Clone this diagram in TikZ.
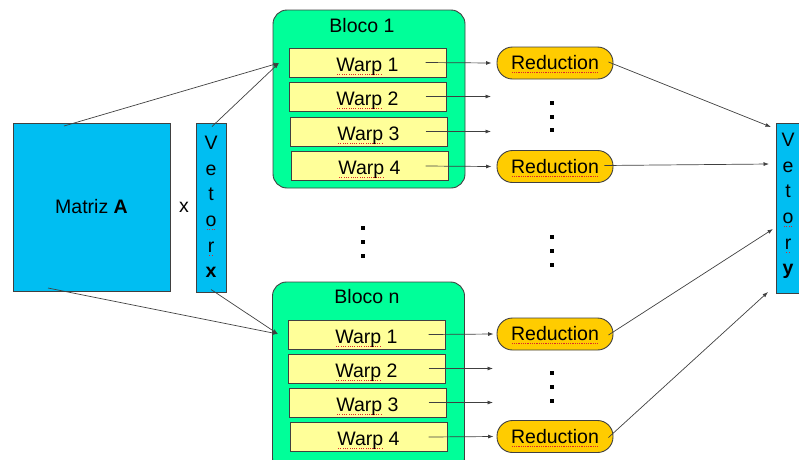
\documentclass[tikz,border=0pt]{standalone}
\usepackage{fontspec}
\setmainfont{Liberation Sans}
\usetikzlibrary{arrows.meta}

\definecolor{matcyan}{RGB}{0,190,242}
\definecolor{blockgreen}{RGB}{0,255,153}
\definecolor{warpyellow}{RGB}{255,255,153}
\definecolor{redfill}{RGB}{255,204,0}
\definecolor{edgegray}{RGB}{64,64,64}
\definecolor{spellred}{RGB}{220,40,40}

% red dotted underline under a word
\newcommand\spellmark[1]{\setbox0=\hbox{#1}\rlap{\textcolor{spellred}{\raisebox{-3.6pt}{\hbox to \wd0{\xleaders\hbox to 2.2pt{\hss\rule{1.1pt}{1.1pt}\hss}\hfill}}}}\box0\relax}

\tikzset{
  txt/.style={font=\fontsize{19.5}{23}\selectfont},
  vecbox/.style={draw=edgegray, line width=0.9pt, fill=matcyan, inner sep=0pt},
  blockbox/.style={draw=edgegray, line width=0.9pt, fill=blockgreen, rounded corners=14pt,
    minimum width=192pt, inner sep=0pt},
  warpbox/.style={txt, draw=edgegray, line width=0.9pt, fill=warpyellow, inner sep=0pt,
    minimum width=157pt, minimum height=29pt, text height=17pt, text depth=0pt},
  redbox/.style={txt, draw=edgegray, line width=0.9pt, fill=redfill, inner sep=0pt,
    rounded corners=15.5pt, minimum width=116pt, minimum height=32pt, text height=13pt, text depth=0pt},
  conn/.style={draw=edgegray, line width=0.7pt, -{Latex[length=5.5pt,width=4pt]}},
  dotmark/.style={fill=black, inner sep=0pt, minimum size=3.2pt, rectangle},
  vletters/.style={font=\fontsize{19.5}{25.6}\selectfont, align=center, inner sep=0pt},
}

\begin{document}
\begin{tikzpicture}[x=1pt, y=-1pt]
\useasboundingbox (0,0) rectangle (799,459);
\clip (0,0) rectangle (799,459);

% matrix A and input vector x
\node[vecbox, minimum width=157pt, minimum height=168pt, txt] (matA) at (91.5,207) {Matriz \textbf{A}};
\node[txt] (times) at (184,207.5) {x};
\node[vecbox, minimum width=30pt, minimum height=169pt] (vecx) at (211,207.5) {};
\node[vletters] (vecxt) at (211,207) {V\\e\\t\\\spellmark{o}\\\spellmark{r}\\\textbf{x}};

% output vector y
\node[vecbox, minimum width=30pt, minimum height=170pt] (vecy) at (791,208) {};
\node[vletters] (vecyt) at (788,206) {V\\e\\t\\\spellmark{o}\\\spellmark{r}\\\textbf{y}};

% block 1
\node[blockbox, minimum height=178pt] (b1) at (369,99) {};
\node[txt, anchor=base] (b1t) at (362,32) {Bloco 1};
\node[warpbox] (w11) at (367.5,62.5) {\spellmark{Warp} 1};
\node[warpbox] (w12) at (367.5,96.5) {\spellmark{Warp} 2};
\node[warpbox] (w13) at (368.5,131.5) {\spellmark{Warp} 3};
\node[warpbox] (w14) at (369.5,166) {\spellmark{Warp} 4};

% block n
\node[blockbox, minimum height=190pt] (bn) at (368.5,377) {};
\node[txt, anchor=base] (bnt) at (367,303) {Bloco n};
\node[warpbox] (wn1) at (366.5,334.5) {\spellmark{Warp} 1};
\node[warpbox] (wn2) at (366.5,368.5) {\spellmark{Warp} 2};
\node[warpbox] (wn3) at (367.5,402.5) {\spellmark{Warp} 3};
\node[warpbox] (wn4) at (368.5,437) {\spellmark{Warp} 4};

% reductions
\node[redbox] (r11) at (555,63) {\spellmark{Reduction}};
\node[redbox] (r14) at (555,166.5) {\spellmark{Reduction}};
\node[redbox] (rn1) at (555,334) {\spellmark{Reduction}};
\node[redbox] (rn4) at (555,436.5) {\spellmark{Reduction}};

% ellipsis dots
\node[dotmark] (d1a) at (552,103) {};
\node[dotmark] (d1b) at (552,117) {};
\node[dotmark] (d1c) at (552,130) {};
\node[dotmark] (dma) at (363,228) {};
\node[dotmark] (dmb) at (363,242) {};
\node[dotmark] (dmc) at (363,256) {};
\node[dotmark] (dra) at (552,237) {};
\node[dotmark] (drb) at (552,251) {};
\node[dotmark] (drc) at (552,265) {};
\node[dotmark] (dna) at (552,373) {};
\node[dotmark] (dnb) at (552,387) {};
\node[dotmark] (dnc) at (552,401) {};

% free ends of connectors
\coordinate (in1) at (279,63);
\coordinate (inn) at (278,334);
\coordinate (e12) at (491,96.5);
\coordinate (e13) at (491,131.5);
\coordinate (en2) at (493,368.5);
\coordinate (en3) at (493,402.5);
\coordinate (y1) at (771,127);
\coordinate (y2) at (769,164);
\coordinate (y3) at (773,229);
\coordinate (y4) at (768,292);

% inputs distributed to the blocks
\draw[conn] ([shift={(-27.5,-81)}]matA.center) -- (in1);
\draw[conn] ([shift={(1,-81)}]vecx.center) -- (in1);
\draw[conn] ([shift={(-43.5,81)}]matA.center) -- (inn);
\draw[conn] ([shift={(0,82)}]vecx.center) -- (inn);

% warps to reductions
\draw[conn] ([xshift=58pt]w11.center) -- ([xshift=-5pt]r11.west);
\draw[conn] ([xshift=58pt]w12.center) -- (e12);
\draw[conn] ([xshift=57pt]w13.center) -- (e13);
\draw[conn] ([xshift=56pt]w14.center) -- ([xshift=-5pt]r14.west);
\draw[conn] ([xshift=62pt]wn1.center) -- ([xshift=-3pt]rn1.west);
\draw[conn] ([xshift=62pt]wn2.center) -- (en2);
\draw[conn] ([xshift=61pt]wn3.center) -- (en3);
\draw[conn] ([xshift=60pt]wn4.center) -- ([xshift=-3pt]rn4.west);

% reductions to output vector
\draw[conn] ([shift={(-5,-1)}]r11.east) -- (y1);
\draw[conn] ([shift={(-9,-1)}]r14.east) -- (y2);
\draw[conn] ([shift={(-5,1)}]rn1.east) -- (y3);
\draw[conn] ([shift={(-5,1)}]rn4.east) -- (y4);
\end{tikzpicture}
\end{document}
